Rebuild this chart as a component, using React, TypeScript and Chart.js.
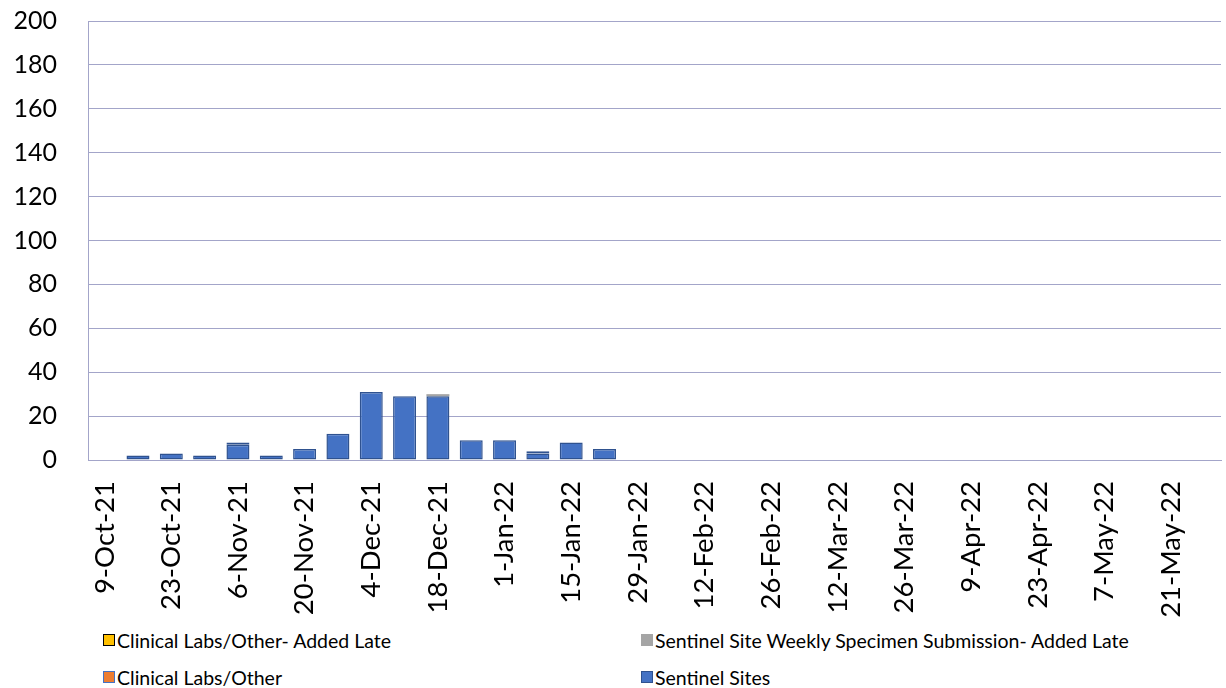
import React, { useEffect, useRef } from "react";
import { Chart, registerables } from "chart.js";

Chart.register(...registerables);

const categories = [
  "9-Oct-21", "16-Oct-21", "23-Oct-21", "30-Oct-21", "6-Nov-21", "13-Nov-21", "20-Nov-21", "27-Nov-21",
  "4-Dec-21", "11-Dec-21", "18-Dec-21", "25-Dec-21", "1-Jan-22", "8-Jan-22", "15-Jan-22", "22-Jan-22",
  "29-Jan-22", "5-Feb-22", "12-Feb-22", "19-Feb-22", "26-Feb-22", "5-Mar-22", "12-Mar-22", "19-Mar-22",
  "26-Mar-22", "2-Apr-22", "9-Apr-22", "16-Apr-22", "23-Apr-22", "30-Apr-22", "7-May-22", "14-May-22",
  "21-May-22", "28-May-22",
];

const sentinelSites = [0, 2, 3, 2, 7, 2, 5, 12, 31, 29, 29, 9, 9, 3, 8, 5, 0, 0, 0, 0, 0, 0, 0, 0, 0, 0, 0, 0, 0, 0, 0, 0, 0, 0];
const clinicalLabs = [0, 0, 0, 0, 1, 0, 0, 0, 0, 0, 0, 0, 0, 1, 0, 0, 0, 0, 0, 0, 0, 0, 0, 0, 0, 0, 0, 0, 0, 0, 0, 0, 0, 0];
const sentinelLate = [0, 0, 0, 0, 0, 0, 0, 0, 0, 0, 1, 0, 0, 0, 0, 0, 0, 0, 0, 0, 0, 0, 0, 0, 0, 0, 0, 0, 0, 0, 0, 0, 0, 0];
const clinicalLate = [0, 0, 0, 0, 0, 0, 0, 0, 0, 0, 0, 0, 0, 0, 0, 0, 0, 0, 0, 0, 0, 0, 0, 0, 0, 0, 0, 0, 0, 0, 0, 0, 0, 0];

const FONT = "Lato, 'Noto Sans', sans-serif";
const GRID = "#A3A5C9";

const legendItems = [
  { label: "Clinical Labs/Other- Added Late", fill: "#FFC000", border: "#000000", x: 103, y: 640 },
  { label: "Sentinel Site Weekly Specimen Submission- Added Late", fill: "#A5A5A5", border: "#A5A5A5", x: 641, y: 640 },
  { label: "Clinical Labs/Other", fill: "#ED7D31", border: "#4472C4", x: 103, y: 677 },
  { label: "Sentinel Sites", fill: "#4472C4", border: "#2F528F", x: 641, y: 677 },
];

export default function App() {
  const ref = useRef<HTMLCanvasElement | null>(null);

  useEffect(() => {
    if (!ref.current) return;
    const common = { barPercentage: 0.69, categoryPercentage: 1, borderWidth: 1.5, borderSkipped: false as const };
    const chart = new Chart(ref.current, {
      type: "bar",
      data: {
        labels: categories,
        datasets: [
          { label: "Sentinel Sites", data: sentinelSites, backgroundColor: "#4472C4", borderColor: "#2F528F", ...common },
          { label: "Clinical Labs/Other", data: clinicalLabs, backgroundColor: "#ED7D31", borderColor: "#2F528F", ...common },
          { label: "Sentinel Site Weekly Specimen Submission- Added Late", data: sentinelLate, backgroundColor: "#A5A5A5", borderColor: "#A5A5A5", ...common, borderWidth: 0 },
          { label: "Clinical Labs/Other- Added Late", data: clinicalLate, backgroundColor: "#FFC000", borderColor: "#000000", ...common },
        ],
      },
      options: {
        animation: false,
        responsive: false,
        maintainAspectRatio: false,
        layout: { padding: { top: 21, right: 5, left: 0, bottom: 0 } },
        plugins: { legend: { display: false }, tooltip: { enabled: false } },
        scales: {
          x: {
            stacked: true,
            grid: { display: false, drawTicks: false },
            border: { display: true, color: GRID, width: 1 },
            ticks: {
              autoSkip: false,
              maxRotation: 90,
              minRotation: 90,
              padding: 21,
              color: "#000",
              font: { family: FONT, size: 27.5 },
              callback: (_v: any, i: number) => (i % 2 === 0 ? categories[i] : ""),
            },
            afterFit: (s: any) => {
              s.height = 160;
              s.paddingLeft = 0;
              s.paddingRight = 0;
            },
          },
          y: {
            stacked: true,
            min: 0,
            max: 200,
            grid: { color: GRID, lineWidth: 1, drawTicks: false },
            border: { display: true, color: GRID, width: 1 },
            ticks: {
              stepSize: 20,
              padding: 31,
              color: "#000",
              font: { family: FONT, size: 25 },
            },
            afterFit: (s: any) => {
              s.width = 88;
              s.paddingTop = 0;
              s.paddingBottom = 0;
            },
          },
        },
      },
    });
    return () => chart.destroy();
  }, []);

  return (
    <div style={{ position: "absolute", left: 0, top: 0, width: 1226, height: 688, background: "#fff", fontFamily: FONT }}>
      <canvas ref={ref} width={1226} height={620} style={{ position: "absolute", left: 0, top: 0, width: 1226, height: 620 }} />
      {legendItems.map((it) => (
        <div key={it.label} style={{ position: "absolute", left: it.x, top: it.y - 12, height: 24, display: "flex", alignItems: "center", fontSize: 19.5, color: "#000", whiteSpace: "nowrap" }}>
          <span style={{ display: "inline-block", width: 10, height: 10, background: it.fill, border: `1.5px solid ${it.border}`, marginRight: 2 }} />
          <span>{it.label}</span>
        </div>
      ))}
    </div>
  );
}
